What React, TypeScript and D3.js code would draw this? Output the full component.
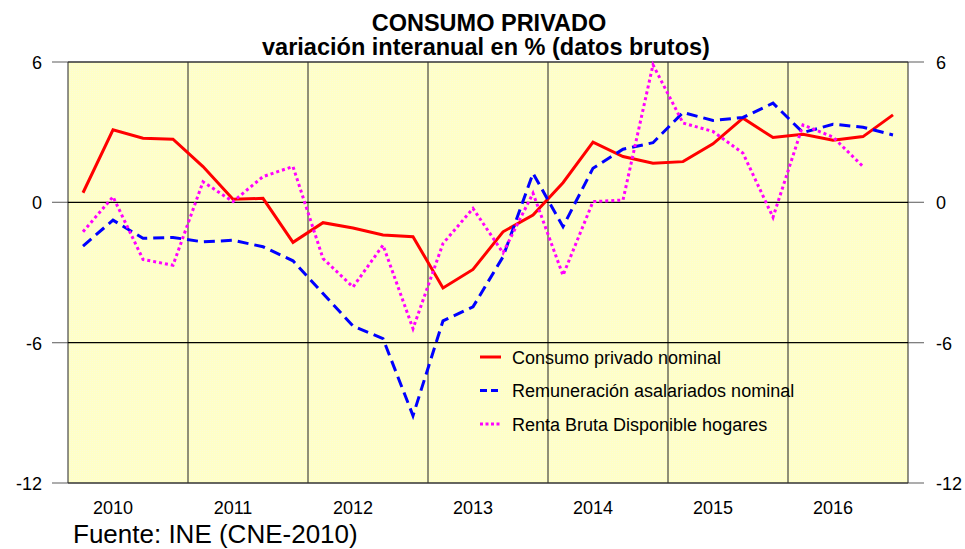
import { useEffect, useRef } from "react"
import * as d3 from "d3"

const years = ["2010", "2011", "2012", "2013", "2014", "2015", "2016"]
const yTicks = [-12, -6, 0, 6]

// quarterly y/y change, 2010Q1 .. 2016Q4
const consumo = [
  0.41, 3.1, 2.74, 2.7, 1.53, 0.13, 0.17, -1.71, -0.87, -1.1, -1.4, -1.47, -3.66, -2.87, -1.26, -0.54,
  0.84, 2.57, 1.96, 1.67, 1.74, 2.5, 3.6, 2.77, 2.91, 2.66, 2.81, 3.74,
]
const remuneracion = [
  -1.87, -0.76, -1.54, -1.5, -1.69, -1.62, -1.9, -2.5, -3.9, -5.29, -5.83, -9.12, -5.07, -4.47, -2.33, 1.24,
  -1.04, 1.46, 2.27, 2.55, 3.84, 3.5, 3.63, 4.24, 2.98, 3.34, 3.21, 2.88,
]
const renta = [
  -1.26, 0.24, -2.44, -2.69, 0.88, 0.03, 1.1, 1.53, -2.4, -3.62, -1.83, -5.4, -1.76, -0.26, -2.16, 0.39,
  -3.12, 0.03, 0.1, 5.88, 3.39, 3.03, 2.1, -0.64, 3.31, 2.79, 1.53,
]

const series = [
  { name: "Consumo privado nominal", values: consumo, color: "#ff0000", dash: "", legendDash: "" },
  { name: "Remuneración asalariados nominal", values: remuneracion, color: "#0000ff", dash: "11 6", legendDash: "7 4" },
  { name: "Renta Bruta Disponible hogares", values: renta, color: "#ff00ff", dash: "3 3", legendDash: "3 2.5" },
]

const font = "'Liberation Sans', Arial, sans-serif"

export default function App() {
  const svgRef = useRef<SVGSVGElement | null>(null)

  useEffect(() => {
    if (!svgRef.current) return
    const svg = d3.select(svgRef.current)
    svg.selectAll("*").remove()

    const width = 965
    const height = 549
    const margin = { top: 62, right: 57, bottom: 66, left: 68 }
    const x0 = margin.left
    const x1 = width - margin.right
    const yTop = margin.top
    const yBot = height - margin.bottom

    svg.attr("width", width).attr("height", height).attr("viewBox", `0 0 ${width} ${height}`)
    svg.append("rect").attr("width", width).attr("height", height).attr("fill", "#fff")

    const nQ = years.length * 4
    const xYear = d3.scaleBand<string>().domain(years).range([x0, x1])
    const xQ = d3.scaleLinear().domain([0, nQ]).range([x0, x1])
    const y = d3.scaleLinear().domain([-12, 6]).range([yBot, yTop])

    const defs = svg.append("defs")
    const pat = defs
      .append("pattern")
      .attr("id", "dots")
      .attr("width", 2)
      .attr("height", 2)
      .attr("patternUnits", "userSpaceOnUse")
    pat.append("rect").attr("width", 2).attr("height", 2).attr("fill", "#ffffc6")
    pat.append("rect").attr("width", 1).attr("height", 1).attr("fill", "#fbfbd8")

    svg
      .append("rect")
      .attr("x", x0)
      .attr("y", yTop)
      .attr("width", x1 - x0)
      .attr("height", yBot - yTop)
      .attr("fill", "url(#dots)")

    // outside tick marks (grey)
    svg
      .append("g")
      .selectAll("line")
      .data(yTicks.flatMap((t) => [
        { t, a: x0 - 16, b: x0 },
        { t, a: x1, b: x1 + 16 },
      ]))
      .join("line")
      .attr("x1", (d) => d.a)
      .attr("x2", (d) => d.b)
      .attr("y1", (d) => y(d.t))
      .attr("y2", (d) => y(d.t))
      .attr("stroke", "#808080")
      .attr("stroke-width", 1.3)

    // vertical year separators
    svg
      .append("g")
      .selectAll("line")
      .data(d3.range(0, years.length + 1))
      .join("line")
      .attr("x1", (i) => xQ(i * 4))
      .attr("x2", (i) => xQ(i * 4))
      .attr("y1", yTop)
      .attr("y2", yBot)
      .attr("stroke", "#222")
      .attr("stroke-width", 1)

    // horizontal grid inside plot
    svg
      .append("g")
      .selectAll("line")
      .data(yTicks)
      .join("line")
      .attr("x1", x0)
      .attr("x2", x1)
      .attr("y1", (d) => y(d))
      .attr("y2", (d) => y(d))
      .attr("stroke", (d) => (d === 6 || d === -12 ? "#333" : "#000"))
      .attr("stroke-width", 1.3)

    const axisText = (anchorX: number, anchor: string) =>
      svg
        .append("g")
        .selectAll("text")
        .data(yTicks)
        .join("text")
        .attr("x", anchorX)
        .attr("y", (d) => y(d) + 7)
        .attr("text-anchor", anchor)
        .attr("font-family", font)
        .attr("font-size", 18)
        .attr("fill", "#000")
        .text((d) => String(d))

    axisText(42, "end")
    axisText(936, "start")

    svg
      .append("g")
      .selectAll("text")
      .data(years)
      .join("text")
      .attr("x", (d) => (xYear(d) ?? 0) + xYear.bandwidth() / 2 - 15)
      .attr("y", 514)
      .attr("text-anchor", "middle")
      .attr("font-family", font)
      .attr("font-size", 18)
      .text((d) => d)

    const line = d3
      .line<number>()
      .x((_, i) => xQ(i + 0.5))
      .y((d) => y(d))

    svg
      .append("g")
      .selectAll("path")
      .data(series)
      .join("path")
      .attr("d", (d) => line(d.values))
      .attr("fill", "none")
      .attr("stroke", (d) => d.color)
      .attr("stroke-width", 3)
      .attr("stroke-dasharray", (d) => d.dash)
      .attr("stroke-linejoin", "miter")

    // legend
    const legend = svg
      .append("g")
      .selectAll("g")
      .data(series)
      .join("g")
      .attr("transform", (_, i) => `translate(480, ${357 + i * 33.5})`)
    legend
      .append("line")
      .attr("x1", 0)
      .attr("x2", 21)
      .attr("stroke", (d) => d.color)
      .attr("stroke-width", 3)
      .attr("stroke-dasharray", (d) => d.legendDash)
    legend
      .append("text")
      .attr("x", 32)
      .attr("y", 6.5)
      .attr("font-family", font)
      .attr("font-size", 18)
      .text((d) => d.name)

    svg
      .append("text")
      .attr("x", 489)
      .attr("y", 30.5)
      .attr("text-anchor", "middle")
      .attr("font-family", font)
      .attr("font-size", 23.5)
      .attr("font-weight", "bold")
      .text("CONSUMO PRIVADO")
    svg
      .append("text")
      .attr("x", 486)
      .attr("y", 55)
      .attr("text-anchor", "middle")
      .attr("font-family", font)
      .attr("font-size", 23.5)
      .attr("font-weight", "bold")
      .text("variación interanual en % (datos brutos)")

    svg
      .append("text")
      .attr("x", 73)
      .attr("y", 543)
      .attr("font-family", font)
      .attr("font-size", 26)
      .text("Fuente: INE (CNE-2010)")
  }, [])

  return (
    <div style={{ position: "absolute", left: 0, top: 0 }}>
      <svg ref={svgRef} style={{ display: "block" }} />
    </div>
  )
}
